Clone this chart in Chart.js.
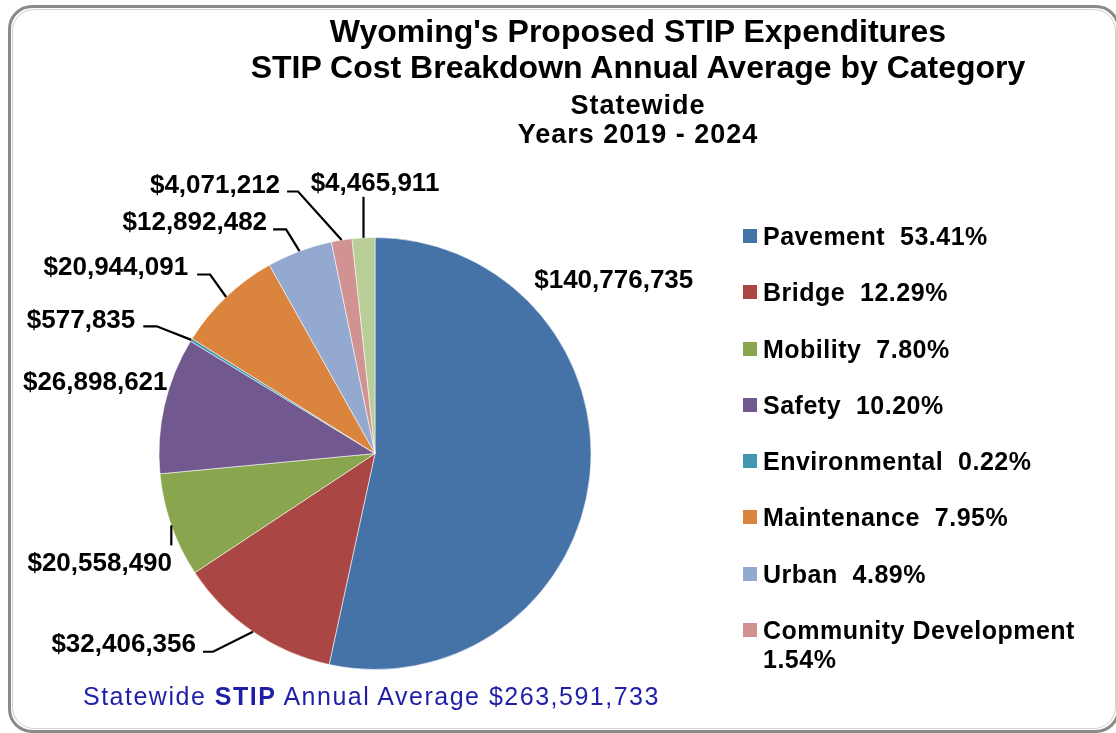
<!DOCTYPE html>
<html>
<head>
<meta charset="utf-8">
<script src="https://cdn.jsdelivr.net/npm/chart.js@4/dist/chart.umd.min.js"></script>
<style>
  html, body { margin: 0; padding: 0; background: #fff; }
  body { width: 1116px; height: 733px; position: relative; overflow: hidden;
         font-family: "Liberation Sans", Arial, Helvetica, sans-serif; }
  #frame { position: absolute; left: 8px; top: 5px; width: 1106px; height: 722px;
           border: 3px solid #8a8a8a; border-radius: 24px; box-sizing: content-box; }
  #frame::after { content: ""; position: absolute; left: 1px; top: 1px; right: 1px; bottom: 1px;
           border: 1px solid #d0d0d0; border-radius: 22px; }
  canvas#c { position: absolute; left: 0; top: 0; }
  .t { position: absolute; left: 638px; transform: translateX(-50%); white-space: nowrap;
       font-weight: bold; color: #000; }
  .t1 { font-size: 32px; line-height: 32px; }
  .t2 { font-size: 27px; line-height: 27px; letter-spacing: 1px; }
  #legend { position: absolute; left: 743px; top: 222px; width: 345px; }
  .li { position: relative; height: 56.3px; font-weight: bold; font-size: 25px; line-height: 29px;
        letter-spacing: 0.5px; color: #000; }
  .li .box { position: absolute; left: 0; top: 7px; width: 14px; height: 14px; }
  .li .txt { position: absolute; left: 20px; top: 0; width: 330px; white-space: pre-wrap; }
  #footer { position: absolute; left: 83px; top: 684px; font-size: 25px; line-height: 25px;
            letter-spacing: 1.5px; color: #1f1fa8; white-space: nowrap; }
</style>
</head>
<body>
<div id="frame"></div>
<canvas id="c" width="1116" height="733"></canvas>
<div class="t t1" id="title1" style="top:15px"></div>
<div class="t t1" id="title2" style="top:51px"></div>
<div class="t t2" id="title3" style="top:92px"></div>
<div class="t t2" id="title4" style="top:121px"></div>
<div id="legend"></div>
<div id="footer"></div>
<script>
// ---- data ----
const titleLines = ["Wyoming's Proposed STIP Expenditures",
                    "STIP Cost Breakdown Annual Average by Category",
                    "Statewide",
                    "Years 2019 - 2024"];
const categories = ["Pavement", "Bridge", "Mobility", "Safety", "Environmental",
                    "Maintenance", "Urban", "Community Development", "Other"];
const values = [140776735, 32406356, 20558490, 26898621, 577835,
                20944091, 12892482, 4071212, 4465911];
const legendShown = [true, true, true, true, true, true, true, true, false];
const footerParts = ["Statewide ", "STIP", " Annual Average "];

// ---- styles ----
const colors = ["#4572A7", "#AA4643", "#89A54E", "#71588F", "#4198AF",
                "#DB843D", "#93A9CF", "#D19392", "#B9CD96"];
// label placement relative to the slice's outer mid-point (text anchor, leader bends)
const labelPlacement = [
  { align: "center", tx: 24,   ty: -198 },
  { align: "right",  tx: -57,  ty: 10.5, leader: [[-40, 20], [-50, 20]] },
  { align: "right",  tx: 0.7,  ty: 36.6, leader: [[0, 20]] },
  { align: "right",  tx: 3,    ty: -24 },
  { align: "right",  tx: -56,  ty: -21.6, leader: [[-34.6, -13.6], [-48, -13.6]] },
  { align: "right",  tx: -38,  ty: -31.5, leader: [[-16, -22.5], [-29, -22.5]] },
  { align: "right",  tx: -32.4, ty: -30.2, leader: [[-13.4, -21.7], [-26.4, -21.7]] },
  { align: "right",  tx: -61.6, ty: -56, leader: [[-43.6, -48.6], [-54.6, -48.6]] },
  { align: "center", tx: 11.5, ty: -56, leader: [[0, -41]] }
];

const total = values.reduce((a, b) => a + b, 0);
const money = v => "$" + v.toLocaleString("en-US");

// titles
titleLines.forEach((t, i) => document.getElementById("title" + (i + 1)).textContent = t);

// legend
const legendEl = document.getElementById("legend");
categories.forEach((name, i) => {
  if (!legendShown[i]) return;
  const pct = (values[i] / total * 100).toFixed(2) + "%";
  const item = document.createElement("div");
  item.className = "li";
  const box = document.createElement("div");
  box.className = "box"; box.style.background = colors[i];
  const txt = document.createElement("div");
  txt.className = "txt"; txt.textContent = name + "  " + pct;
  item.appendChild(box); item.appendChild(txt);
  legendEl.appendChild(item);
});

// footer
const footer = document.getElementById("footer");
footer.appendChild(document.createTextNode(footerParts[0]));
const b = document.createElement("b"); b.textContent = footerParts[1]; footer.appendChild(b);
footer.appendChild(document.createTextNode(footerParts[2] + money(total)));

// slice value labels with leader lines
const sliceLabels = {
  id: "sliceLabels",
  afterDatasetsDraw(chart) {
    const ctx = chart.ctx;
    const meta = chart.getDatasetMeta(0);
    const fs = 26;
    ctx.save();
    ctx.font = "bold " + fs + "px 'Liberation Sans', Arial, sans-serif";
    ctx.fillStyle = "#000";
    ctx.strokeStyle = "#000";
    ctx.lineWidth = 2.2;
    ctx.lineJoin = "miter";
    ctx.textBaseline = "alphabetic";
    meta.data.forEach((arc, i) => {
      const p = arc.getProps(["x", "y", "startAngle", "endAngle", "outerRadius"], true);
      const mid = (p.startAngle + p.endAngle) / 2;
      const ex = p.x + Math.cos(mid) * p.outerRadius;
      const ey = p.y + Math.sin(mid) * p.outerRadius;
      const L = labelPlacement[i];
      if (L.leader) {
        ctx.beginPath();
        ctx.moveTo(ex, ey);
        L.leader.forEach(([dx, dy]) => ctx.lineTo(ex + dx, ey + dy));
        ctx.stroke();
      }
      ctx.textAlign = L.align;
      ctx.fillText(money(values[i]), ex + L.tx, ey + L.ty + 0.358 * fs);
    });
    ctx.restore();
  }
};

new Chart(document.getElementById("c"), {
  type: "pie",
  data: {
    labels: categories,
    datasets: [{
      data: values,
      backgroundColor: colors,
      borderColor: "rgba(255,255,255,0.55)",
      borderWidth: 1,
      radius: 216
    }]
  },
  options: {
    responsive: false,
    animation: false,
    layout: { padding: { left: 159, right: 525, top: 237.5, bottom: 63.5 } },
    plugins: { legend: { display: false }, title: { display: false }, tooltip: { enabled: false } }
  },
  plugins: [sliceLabels]
});
</script>
</body>
</html>
